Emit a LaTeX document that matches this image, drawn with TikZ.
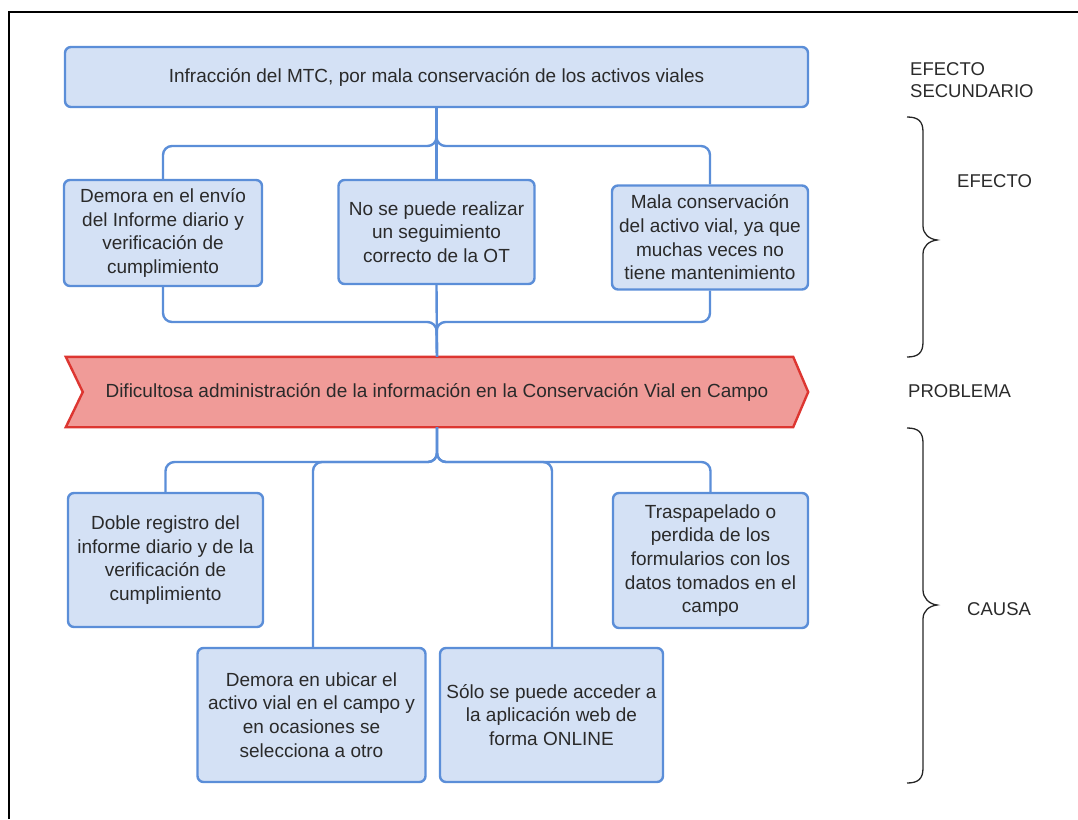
\documentclass[tikz,border=0pt]{standalone}
\usepackage{fontspec}
\setmainfont{Liberation Sans}
\usetikzlibrary{backgrounds}
\definecolor{boxfill}{HTML}{D4E1F5}
\definecolor{boxline}{HTML}{5B8ED8}
\definecolor{probfill}{HTML}{F09B98}
\definecolor{probline}{HTML}{DD3631}
\definecolor{txt}{HTML}{2A2A2A}
\begin{document}
\begin{tikzpicture}[x=1pt,y=-1pt,
  every node/.style={text=txt, font=\fontsize{19}{23.7}\selectfont, inner sep=0pt},
  blk/.style={draw=boxline, fill=boxfill, line width=2.4pt, rounded corners=6pt, align=center},
  conn/.style={draw=boxline, line width=2.4pt, rounded corners=9pt},
  brace/.style={draw=black!85, line width=1.3pt},
  side/.style={align=left, anchor=west, font=\fontsize{18.5}{22}\selectfont}]
  % page frame
  \useasboundingbox (0,0) rectangle (1078,819);
  \draw[line width=2pt] (9,819) -- (9,12) -- (1078,12);

  % secondary effect
  \node[blk, minimum width=743, minimum height=60] (top) at (436.5,77)
    {Infracción del MTC, por mala conservación de los activos viales};

  % effects
  \node[blk, minimum width=198, minimum height=106] (e1) at (163,233)
    {Demora en el envío\\del Informe diario y\\verificación de\\cumplimiento};
  \node[blk, minimum width=196, minimum height=104] (e2) at (436.5,232)
    {No se puede realizar\\un seguimiento\\correcto de la OT};
  \node[blk, minimum width=196, minimum height=104] (e3) at (710,237.5)
    {Mala conservación\\del activo vial, ya que\\muchas veces no\\tiene mantenimiento};

  % problem banner
  \node[minimum width=742, minimum height=70] (prob) at (437,392)
    {Dificultosa administración de la información en la Conservación Vial en Campo};
  \begin{scope}[on background layer]
    \draw[draw=probline, fill=probfill, line width=2.4pt, line join=miter]
      (prob.north west) -- ([xshift=-15pt]prob.north east) -- (prob.east)
      -- ([xshift=-15pt]prob.south east) -- (prob.south west)
      -- ([xshift=17pt]prob.west) -- cycle;
  \end{scope}

  % causes
  \node[blk, minimum width=195, minimum height=134] (c1) at (165.5,560)
    {Doble registro del\\informe diario y de la\\verificación de\\cumplimiento};
  \node[blk, minimum width=195, minimum height=135] (c4) at (710.5,560.5)
    {Traspapelado o\\perdida de los\\formularios con los\\datos tomados en el\\campo};
  \node[blk, minimum width=228, minimum height=134] (c2) at (311.5,715)
    {Demora en ubicar el\\activo vial en el campo y\\en ocasiones se\\selecciona a otro};
  \node[blk, minimum width=223, minimum height=134] (c3) at (551.5,715)
    {Sólo se puede acceder a\\la aplicación web de\\forma ONLINE};

  % bus levels
  \coordinate (busA) at (436.5,146);
  \coordinate (busB) at (436.5,322);
  \coordinate (busC) at (436.5,462);

  % connectors: secondary effect -> effects
  \draw[conn] (top.south) |- (e1.north |- busA) -- (e1.north);
  \draw[conn] (top.south) |- (e3.north |- busA) -- (e3.north);
  \draw[conn] (top.south) -- (e2.north);

  % connectors: effects -> problem
  \draw[conn] (e1.south) |- (busB) -- (prob.north);
  \draw[conn] (e3.south) |- (busB) -- (prob.north);
  \draw[conn] (e2.south) -- (prob.north);

  % connectors: problem -> causes
  \draw[conn] (prob.south) |- (c1.north |- busC) -- (c1.north);
  \draw[conn] (prob.south) |- (c4.north |- busC) -- (c4.north);
  \draw[conn] (prob.south) |- (313,462) -- (c2.north -| 313,0);
  \draw[conn] (prob.south) |- (552,462) -- (c3.north -| 552,0);

  % side braces
  \draw[brace] (907,117) .. controls (918,117) and (923,121) .. (923,132)
    -- (923,226) .. controls (923,234) and (929,239) .. (937,240)
    .. controls (929,241) and (923,246) .. (923,254)
    -- (923,342) .. controls (923,353) and (918,357) .. (907,357);
  \draw[brace] (907,428) .. controls (918,428) and (923,432) .. (923,443)
    -- (923,590) .. controls (923,598) and (929,604) .. (937,605)
    .. controls (929,606) and (923,611) .. (923,619)
    -- (923,768) .. controls (923,779) and (918,783) .. (907,783);

  % side labels
  \node[side] (lsec) at (910,80) {EFECTO\\SECUNDARIO};
  \node[side] (lef) at (957,181) {EFECTO};
  \node[side] (lprob) at (908,391) {PROBLEMA};
  \node[side] (lcau) at (967,609) {CAUSA};
\end{tikzpicture}
\end{document}
